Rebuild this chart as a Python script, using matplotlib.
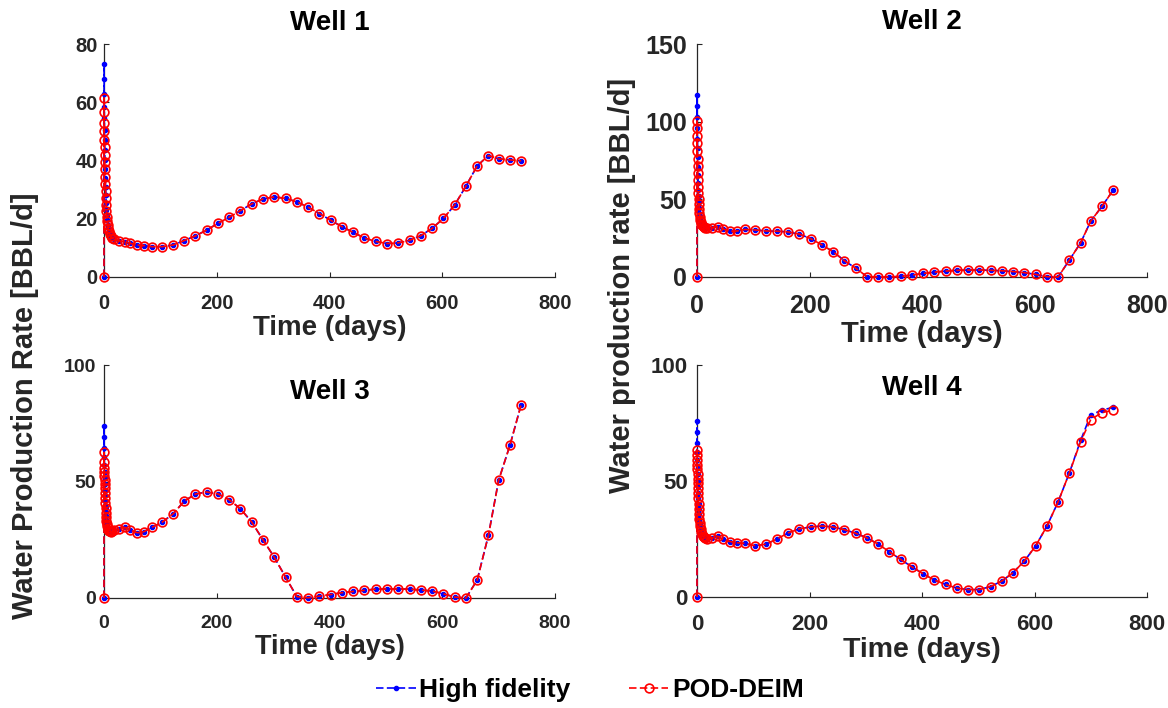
import matplotlib
matplotlib.use("Agg")
import matplotlib.pyplot as plt

plt.rcParams["font.family"] = ["Liberation Sans", "DejaVu Sans"]
plt.rcParams["font.weight"] = "bold"

# Report times (days): fine steps at start-up, then roughly 20-day steps
t_early = [0, 0.1, 0.2, 0.35, 0.5, 0.7, 0.9, 1.1, 1.4, 1.7, 2.0, 2.4, 2.8,
           3.3, 3.8, 4.4, 5.0, 5.8, 6.6, 7.6, 8.6, 10, 12, 14]
t_late = [18, 27, 37, 46, 59, 71, 85, 103,
          123, 142, 162, 182, 202, 222, 242, 262, 282, 302,
          322, 342, 362, 382, 402, 422, 442, 462, 482, 502,
          522, 542, 562, 582, 602, 622, 642, 662, 682,
          700, 720, 740]

# Well 1 water rate [BBL/d]
hf_w1_early = [0, 73, 68, 63, 58.5, 54.5, 50.5, 47, 43.5, 40, 37, 34, 31,
               28, 25.5, 23, 21, 19.5, 18, 16.8, 15.8, 14.8, 14, 13.5]
rom_w1_early = [0, 61.5, 56.5, 53, 50, 47, 44.5, 42, 39.5, 37, 34.5, 32, 29.5,
                27, 24.8, 22.6, 20.7, 19.2, 17.8, 16.7, 15.7, 14.8, 14, 13.5]
hf_w1_late = [13.0, 12.4, 12.0, 11.6, 11.0, 10.8, 10.4, 10.4,
              11.0, 12.5, 14.1, 16.1, 18.4, 20.5, 22.8, 25.1, 26.8, 27.5,
              27.0, 25.8, 24.0, 21.8, 19.5, 17.3, 15.3, 13.4, 12.2, 11.5,
              11.7, 12.6, 14.2, 16.7, 20.1, 24.7, 31.2, 38.2, 41.7,
              40.6, 40.2, 39.9]
rom_w1_late = list(hf_w1_late)

# Well 2
hf_w2_early = [0, 117, 110, 103, 96, 89, 83, 77, 71, 65.5, 60.5, 56, 52,
               48, 44.5, 41.5, 39, 37, 35.5, 34.3, 33.4, 32.7, 32.1, 31.6]
rom_w2_early = [0, 100.5, 96, 91, 86, 81, 76, 71.5, 67, 62.5, 58, 54, 50.5,
                47, 44, 41.2, 38.8, 36.8, 35.4, 34.2, 33.3, 32.6, 32.0, 31.5]
hf_w2_late = [31.3, 31.8, 32.4, 31.0, 29.4, 29.6, 30.6, 30.3,
              29.6, 29.5, 29.0, 27.6, 24.7, 20.7, 16.3, 10.5, 5.7, 0.3,
              0.0, 0.0, 0.4, 1.2, 2.3, 3.1, 3.8, 4.3, 4.5, 4.5,
              4.3, 4.0, 3.5, 2.8, 1.7, 0.2, 0.0, 10.9, 22.0,
              36.0, 45.5, 56.0]
rom_w2_late = list(hf_w2_late)

# Well 3
hf_w3_early = [0, 74, 69, 64.5, 60.5, 57, 54, 51.5, 49, 46.5, 44, 41.5, 39,
               37, 35, 33.3, 32, 30.9, 30.0, 29.3, 28.9, 28.6, 28.5, 28.7]
rom_w3_early = [0, 62.5, 58.5, 56, 54, 52.2, 50.5, 48.8, 47, 45, 43, 40.8, 38.6,
                36.6, 34.7, 33.1, 31.8, 30.8, 29.9, 29.3, 28.9, 28.6, 28.5, 28.7]
hf_w3_late = [29.0, 29.6, 30.3, 29.2, 28.0, 28.5, 30.3, 32.5,
              36.2, 41.5, 44.6, 45.5, 44.7, 42.2, 38.3, 32.6, 25.0, 17.5,
              9.0, 0.6, 0.1, 0.8, 1.5, 2.3, 2.8, 3.3, 3.8, 3.9,
              3.9, 3.8, 3.4, 3.0, 1.8, 0.4, 0.0, 7.7, 27.0,
              50.5, 65.5, 83.0]
rom_w3_late = list(hf_w3_late)

# Well 4
hf_w4_early = [0, 76, 71, 66.5, 62.5, 59, 56, 53, 50, 47.5, 45, 42.5, 40,
               37.8, 35.7, 33.8, 32, 30.5, 29.2, 28.1, 27.2, 26.4, 25.8, 25.4]
rom_w4_early = [0, 63.5, 61, 59, 57, 55, 53, 51, 49, 47, 44.8, 42.5, 40,
                37.8, 35.7, 33.8, 32, 30.5, 29.2, 28.1, 27.2, 26.4, 25.8, 25.4]
hf_w4_late = [25.1, 25.4, 26.2, 24.8, 23.9, 23.4, 23.1, 22.1,
              22.8, 25.0, 27.6, 29.4, 30.2, 30.6, 30.2, 29.0, 27.5, 25.5,
              22.8, 19.5, 16.2, 13.0, 10.0, 7.3, 5.4, 3.8, 3.2, 3.2,
              4.5, 6.9, 10.5, 15.5, 22.0, 30.5, 41.0, 53.5, 67.5,
              78.5, 80.5, 81.8]
rom_w4_late = [25.1, 25.4, 26.2, 24.8, 23.9, 23.4, 23.1, 22.1,
               22.8, 25.0, 27.6, 29.4, 30.2, 30.6, 30.2, 29.0, 27.5, 25.5,
               22.8, 19.5, 16.2, 13.0, 10.0, 7.3, 5.4, 3.8, 3.2, 3.2,
               4.5, 6.9, 10.5, 15.5, 22.0, 30.5, 41.0, 53.5, 67.0,
               76.5, 79.5, 80.5]

x_ticks = [0, 200, 400, 600, 800]
titles = ["Well 1", "Well 2", "Well 3", "Well 4"]
y_ticks = [[0, 20, 40, 60, 80], [0, 50, 100, 150], [0, 50, 100], [0, 50, 100]]

t_all = t_early + t_late
hf_series = [hf_w1_early + hf_w1_late, hf_w2_early + hf_w2_late,
             hf_w3_early + hf_w3_late, hf_w4_early + hf_w4_late]
rom_series = [rom_w1_early + rom_w1_late, rom_w2_early + rom_w2_late,
              rom_w3_early + rom_w3_late, rom_w4_early + rom_w4_late]

W, H = 1168, 708
fig = plt.figure(figsize=(W / 100, H / 100), dpi=100)

# axes boxes in pixels: left, right, top, bottom
boxes = [(104, 555, 44, 277), (697, 1147, 44, 277),
         (104, 555, 365, 598), (697, 1147, 365, 597)]
tick_sizes = [14.5, 18, 14, 16]
ytick_pads = [4.5, 7, 6, 6.5]
xlab_sizes = [20, 21, 19.5, 20.5]
title_y_px = [23, 22, 392, 388]

ink = "#262626"
dash = (4.5, 2.0)
axes = []
for i, (l, r, t, b) in enumerate(boxes):
    ax = fig.add_axes([l / W, 1 - b / H, (r - l) / W, (b - t) / H])
    axes.append(ax)
    h_hf, = ax.plot(t_all, hf_series[i], color="blue", lw=1.2,
                    dashes=dash, marker=".", ms=6, clip_on=False,
                    label="High fidelity", zorder=3)
    h_rom, = ax.plot(t_all, rom_series[i], color="red", lw=1.2,
                     dashes=dash, marker="o", ms=6.3, mfc="none", mew=1.2,
                     clip_on=False, label="POD-DEIM", zorder=4)
    ax.set_xlim(0, 800)
    ax.set_ylim(y_ticks[i][0], y_ticks[i][-1])
    ax.set_xticks(x_ticks)
    ax.set_yticks(y_ticks[i])
    for side in ("top", "right"):
        ax.spines[side].set_visible(False)
    for side in ("left", "bottom"):
        ax.spines[side].set_color(ink)
        ax.spines[side].set_linewidth(0.9)
    ax.tick_params(direction="in", length=3.5, width=0.8, color=ink,
                   labelcolor=ink, labelsize=tick_sizes[i])
    ax.tick_params(axis="x", pad=12)
    ax.tick_params(axis="y", pad=ytick_pads[i])
    for lab in ax.get_xticklabels() + ax.get_yticklabels():
        lab.set_fontweight("bold")
    ax.set_xlabel("Time (days)", fontsize=xlab_sizes[i], fontweight="bold",
                  color=ink, labelpad=2)
    cx = (l + r) / 2 / W
    fig.text(cx, 1 - title_y_px[i] / H, titles[i], ha="center", va="center",
             fontsize=20, fontweight="bold", color="black")

fig.text(25 / W, 1 - 406 / H, "Water Production Rate [BBL/d]", rotation=90,
         ha="center", va="center", fontsize=21, fontweight="bold", color=ink)
fig.text(622 / W, 1 - 285 / H, "Water production rate [BBL/d]", rotation=90,
         ha="center", va="center", fontsize=21, fontweight="bold", color=ink)

fig.legend(handles=[h_hf, h_rom], loc="center",
           bbox_to_anchor=(590 / W, 1 - 690 / H), ncol=2, frameon=False,
           prop={"size": 19, "weight": "bold"}, handlelength=1.5,
           handletextpad=0.15, columnspacing=2.2, numpoints=1)

fig.savefig("out.png", dpi=100)
